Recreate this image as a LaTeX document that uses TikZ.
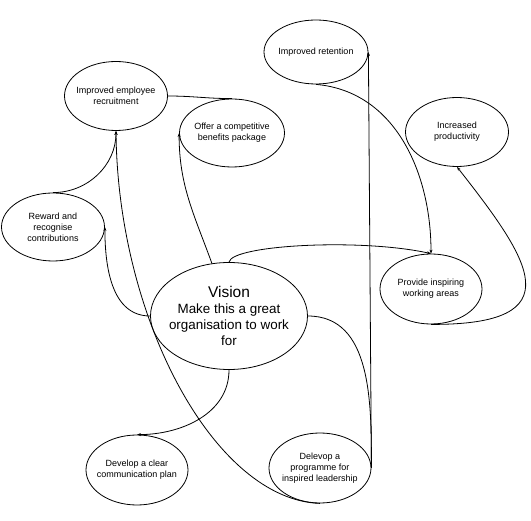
\documentclass[tikz,border=0pt]{standalone}
\usepackage{fontspec}
\setmainfont{Liberation Sans}
\usetikzlibrary{shapes.geometric,arrows.meta}

\begin{document}
\begin{tikzpicture}[
       x=1pt, y=-1pt,
       line width=0.8pt,
       >={Stealth[length=4pt,width=3pt]},
       aim/.style={
         ellipse,
         draw,
         align=center,
         inner xsep=-6pt,
         inner ysep=0pt,
         minimum width=103pt,
         minimum height=69pt,
         font=\fontsize{9}{11}\selectfont
       }
     ]

       \useasboundingbox (0,0) rectangle (531,521);

       \node (recruit) at (116,96) [aim]{Improved employee\\recruitment};
       \node (offer) at (232,133) [aim, minimum width=105pt, minimum height=68pt]{Offer a competitive\\benefits package};
       \node (reward) at (53,227) [aim, minimum height=68pt]{Reward and\\recognise\\contributions};
       \node (retain) at (316,52) [aim, minimum width=104pt, minimum height=64pt]{Improved retention};
       \node (product) at (457,132) [aim]{Increased\\productivity};
       \node (inspire) at (431,289) [aim, minimum width=102pt, minimum height=70pt]{Provide inspiring\\working areas};

       \node (vision) at (229,316) [aim, minimum width=157pt, minimum height=107pt,
         font=\fontsize{13.4}{16}\selectfont]{{\fontsize{15.5}{17}\selectfont Vision}\\Make this a great\\organisation to work\\for};

       \node (comm) at (137,470) [aim, minimum width=102pt, minimum height=70pt]{Develop a clear\\communication plan};
       \node (lead) at (320,468) [aim, minimum width=102pt, minimum height=70pt]{Delevop a\\programme for\\inspired leadership};

       \draw (recruit.east) to[out=0, in=180] (offer.north);
       \draw[->] (reward.north) to[out=0, in=-90] (recruit.south);
       \draw[->] (vision.west) to[out=180, in=-90] (reward.east);
       \draw[->] (lead.south) .. controls (215,500) and (118,320) .. (recruit.south);
       \draw[->] (vision.108) to[out=110, in=-90] (offer.west);

       \draw[->] (vision.north) .. controls (232,245) and (360,238) .. (inspire.north);
       \draw[->] (retain.south) to[out=-5, in=90] (inspire.north);
       \draw[->] (inspire.south) .. controls (575,325) and (530,260) .. (product.south);

       \draw (vision.east) to[out=0, in=90] (lead.east);
       \draw[->] (lead.east) -- (retain.east);
       \draw[->] (vision.south) to[out=-90, in=0] (comm.north);

\end{tikzpicture}
\end{document}
